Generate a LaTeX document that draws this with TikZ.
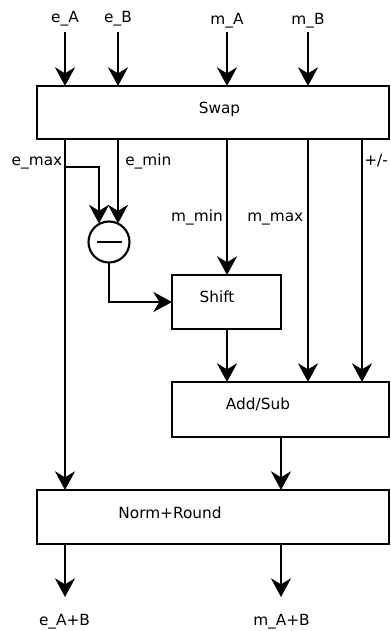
\documentclass[tikz,border=0pt]{standalone}
\usepackage{fontspec}
\setmainfont{DejaVu Sans}
\usetikzlibrary{arrows.meta,calc}
\begin{document}
\begin{tikzpicture}[x=0.75pt,y=-0.75pt,
  box/.style={draw,line width=2pt,inner sep=0pt,outer sep=0pt},
  arr/.style={line width=1.6pt,-{Stealth[length=14pt,width=15pt,inset=4.5pt]}},
  lbl/.style={font=\fontsize{11.5pt}{13pt}\selectfont,inner sep=0pt},
  ]
\useasboundingbox (0,0) rectangle (390,631);
% boxes
\node[box,minimum width=264pt,minimum height=39.75pt] (swap) at (213,112.5) {};
\node[box,minimum width=81.75pt,minimum height=40.5pt] (shift) at (226.5,302) {};
\node[box,minimum width=162.75pt,minimum height=41.25pt] (add) at (280.5,409.5) {};
\node[box,minimum width=264pt,minimum height=40.5pt] (norm) at (213,517) {};
\node[circle,draw,line width=1.6pt,minimum size=30.75pt,inner sep=0pt,outer sep=0pt] (sub) at (109,242) {};
\draw[line width=2pt] (sub.west) ++(8.5,0) coordinate (mA) -- ($(sub.east)+(-8,0)$) coordinate (mB);
% texts
\node[lbl,anchor=base] (tswap) at (219.5,113.5) {Swap};
\node[lbl,anchor=base] (tshift) at (217,302) {Shift};
\node[lbl,anchor=base] (tadd) at (258,409) {Add/Sub};
\node[lbl,anchor=base] (tnorm) at (170,518) {Norm+Round};
\node[lbl,anchor=base] (teA) at (65,23) {e\_A};
\node[lbl,anchor=base] (teB) at (118,23) {e\_B};
\node[lbl,anchor=base] (tmA) at (227,25) {m\_A};
\node[lbl,anchor=base] (tmB) at (308,25) {m\_B};
\node[lbl,anchor=base east] (temax) at (62.5,166) {e\_max};
\node[lbl,anchor=base west] (temin) at (125,166) {e\_min};
\node[lbl,anchor=base west] (tpm) at (364,166) {+/-};
\node[lbl,anchor=base east] (tmmin) at (223,221) {m\_min};
\node[lbl,anchor=base west] (tmmax) at (247,221) {m\_max};
\node[lbl,anchor=base] (teAB) at (64.5,625) {e\_A+B};
\node[lbl,anchor=base] (tmAB) at (281.5,625) {m\_A+B};
% coordinates
\coordinate (inA) at (65,32);
\coordinate (inB) at (118,32);
\coordinate (inC) at (227,32);
\coordinate (inD) at (308,32);
\coordinate (pmx) at (362,0);
\coordinate (br) at (65,167);
\coordinate (emx) at (99,0);
\coordinate (cy) at (0,223.5);
\coordinate (outM) at (281,0);
\coordinate (oeA) at (65,597);
\coordinate (omAB) at (281,597);
% inputs
\draw[arr] (inA) -- (inA |- swap.north);
\draw[arr] (inB) -- (inB |- swap.north);
\draw[arr] (inC) -- (inC |- swap.north);
\draw[arr] (inD) -- (inD |- swap.north);
% swap outputs
\draw[arr] (inA |- swap.south) -- (inA |- norm.north);
\draw[arr] (br) -| (emx |- cy);
\draw[arr] (inB |- swap.south) -- (inB |- cy);
\draw[arr] (inC |- swap.south) -- (inC |- shift.north);
\draw[arr] (inD |- swap.south) -- (inD |- add.north);
\draw[arr] (pmx |- swap.south) -- (pmx |- add.north);
\draw[arr] (sub.south) |- (shift.west);
\draw[arr] (inC |- shift.south) -- (inC |- add.north);
\draw[arr] (outM |- add.south) -- (outM |- norm.north);
% outputs
\draw[arr] (inA |- norm.south) -- (oeA);
\draw[arr] (outM |- norm.south) -- (omAB);
\end{tikzpicture}
\end{document}
